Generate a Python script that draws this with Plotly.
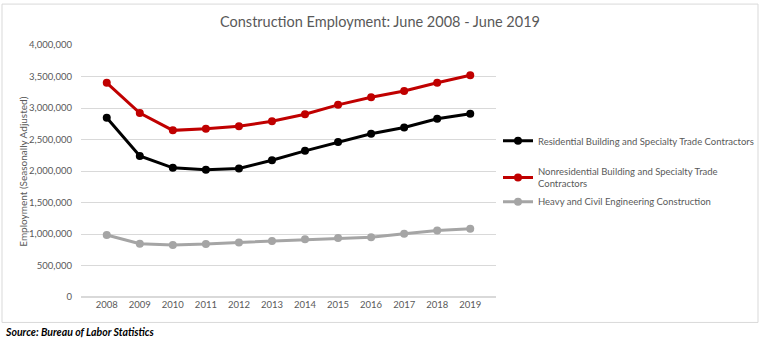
import plotly.graph_objects as go

years = ["2008", "2009", "2010", "2011", "2012", "2013", "2014", "2015", "2016", "2017", "2018", "2019"]
residential = [2845000, 2240000, 2050000, 2020000, 2040000, 2170000, 2320000, 2460000, 2590000, 2690000, 2830000, 2910000]
nonresidential = [3400000, 2920000, 2645000, 2670000, 2710000, 2790000, 2900000, 3050000, 3170000, 3270000, 3400000, 3520000]
heavy = [984000, 847000, 826000, 840000, 867000, 890000, 915000, 935000, 950000, 1005000, 1057000, 1084000]

series_names = [
    "Residential Building and Specialty Trade Contractors",
    "Nonresidential Building and Specialty Trade<br>Contractors",
    "Heavy and Civil Engineering Construction",
]
colors = ["#000000", "#C00000", "#A5A5A5"]
ytick_vals = [0, 500000, 1000000, 1500000, 2000000, 2500000, 3000000, 3500000, 4000000]
ytick_text = ["0", "500,000", "1,000,000", "1,500,000", "2,000,000", "2,500,000", "3,000,000", "3,500,000", "4,000,000"]

FONT = "Lato, Open Sans, sans-serif"
PLOT_BOTTOM, PLOT_H, PLOT_L, PLOT_W = 297.5, 252.5, 81, 415
legend_ids = ["legend", "legend2", "legend3"]
legend_centers = [141, 178, 202]

fig = go.Figure()
for name, vals, col, lid in zip(series_names, [residential, nonresidential, heavy], colors, legend_ids):
    fig.add_trace(go.Scatter(
        x=years, y=vals, name=name, mode="lines+markers",
        line=dict(color=col, width=3), marker=dict(color=col, size=8),
        legend=lid,
    ))

legend_common = dict(x=(498 - PLOT_L) / PLOT_W, xanchor="left", yanchor="middle",
                     font=dict(size=9.5, color="#595959", family=FONT),
                     itemwidth=30, bgcolor="rgba(0,0,0,0)")
legends = {lid: dict(y=(PLOT_BOTTOM - c) / PLOT_H, **legend_common)
           for lid, c in zip(legend_ids, legend_centers)}

fig.update_layout(
    width=760, height=342,
    margin=dict(l=81, r=264, t=45, b=45, autoexpand=False),
    paper_bgcolor="white", plot_bgcolor="white",
    font=dict(family=FONT, color="#595959", size=10),
    title=dict(text="Construction Employment: June 2008 - June 2019",
               x=0.5, xanchor="center", y=1 - 22 / 342, yanchor="middle",
               font=dict(size=14.5, color="#595959", family=FONT)),
    showlegend=True,
    xaxis=dict(type="category", showgrid=False, showline=False, ticks="",
               tickfont=dict(size=9.5, color="#595959"), fixedrange=True),
    yaxis=dict(range=[0, 4000000], tickvals=ytick_vals, ticktext=ytick_text,
               showgrid=True, gridcolor="#D9D9D9", gridwidth=1, zeroline=True,
               zerolinecolor="#D9D9D9", showline=False, ticks="",
               ticklabelstandoff=8,
               tickfont=dict(size=9.5, color="#595959")),
    **legends,
)

# chart frame
fig.add_shape(type="rect", xref="paper", yref="paper",
              x0=(2 - PLOT_L) / PLOT_W, x1=(758 - PLOT_L) / PLOT_W,
              y0=(PLOT_BOTTOM - 323) / PLOT_H, y1=(PLOT_BOTTOM - 4) / PLOT_H,
              line=dict(color="#D9D9D9", width=1), layer="below")

fig.add_annotation(text="Employment (Seasonally Adjusted)", textangle=-90,
                   xref="paper", yref="paper", x=(23 - PLOT_L) / PLOT_W, y=(PLOT_BOTTOM - 172) / PLOT_H,
                   xanchor="center", yanchor="middle", showarrow=False,
                   font=dict(size=10, color="#595959", family=FONT))

fig.add_annotation(text="<b><i>Source: Bureau of Labor Statistics</i></b>",
                   xref="paper", yref="paper", x=(3 - PLOT_L) / PLOT_W, y=(PLOT_BOTTOM - 333) / PLOT_H,
                   xanchor="left", yanchor="middle", showarrow=False,
                   font=dict(size=10.5, color="#000000", family=FONT))

fig.write_html("out.html")
